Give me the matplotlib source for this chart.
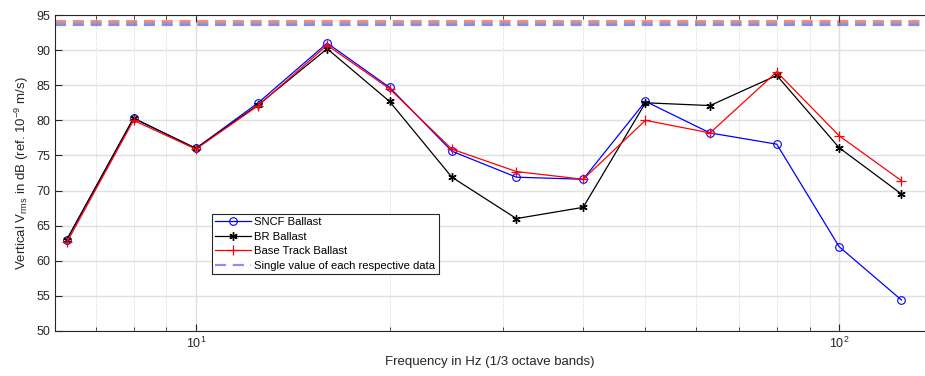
import matplotlib
matplotlib.use("Agg")
import matplotlib.pyplot as plt
import numpy as np
from matplotlib.ticker import LogLocator, NullFormatter

plt.rcParams['font.family'] = ['Liberation Sans', 'DejaVu Sans']
plt.rcParams['mathtext.fontset'] = 'custom'
plt.rcParams['mathtext.rm'] = 'Liberation Sans'
plt.rcParams['mathtext.it'] = 'Liberation Sans'

# 1/3 octave band centre frequencies
freqs = [6.3, 8, 10, 12.5, 16, 20, 25, 31.5, 40, 50, 63, 80, 100, 125]

# vertical velocity levels (dB re 1e-9 m/s)
sncf = [63.0, 80.3, 76.0, 82.5, 91.0, 84.7, 75.6, 71.9, 71.6, 82.7, 78.2, 76.6, 62.0, 54.4]
br = [63.0, 80.3, 76.0, 82.2, 90.2, 82.7, 71.9, 66.0, 67.6, 82.5, 82.1, 86.4, 76.1, 69.5]
base = [62.6, 80.0, 75.9, 82.1, 90.7, 84.5, 75.9, 72.7, 71.6, 80.0, 78.2, 86.9, 77.8, 71.4]

# single values of each data set
single_sncf = 93.6
single_br = 93.8
single_base = 94.1

fig = plt.figure(figsize=(9.25, 3.76), dpi=100)
ax = fig.add_axes([0.0595, 0.12, 0.9405, 0.84])

ax.plot(freqs, sncf, color='blue', marker='o', mfc='none', ms=5.5, mew=0.8, lw=0.9, label='SNCF Ballast')
ax.plot(freqs, br, color='black', marker=(6, 2, 0), ms=6, mew=1.0, lw=0.9, label='BR Ballast')
ax.plot(freqs, base, color='red', marker='+', ms=7, mew=0.9, lw=0.9, label='Base Track Ballast')

ax.axhline(single_base, color='red', ls='--', lw=1.6, alpha=0.45, dashes=(5, 3))
ax.axhline(single_br, color='black', ls='--', lw=1.6, alpha=0.35, dashes=(5, 3))
ax.axhline(single_sncf, color='blue', ls='--', lw=1.6, alpha=0.45, dashes=(5, 3),
           label='Single value of each respective data')

ax.set_xscale('log')
ax.set_xlim(6.04, 136)
ax.set_ylim(50, 95)
ax.set_yticks(np.arange(50, 96, 5))
ax.xaxis.set_major_locator(LogLocator(base=10, numticks=10))
ax.xaxis.set_minor_locator(LogLocator(base=10, subs=np.arange(2, 10), numticks=10))
ax.xaxis.set_minor_formatter(NullFormatter())

ax.grid(True, which='major', axis='both', color='#e0e0e0', lw=1.0, ls='-')
ax.grid(True, which='minor', axis='x', color='#c8c8c8', lw=0.6, ls=':')
ax.set_axisbelow(True)

ax.tick_params(which='both', direction='in', top=True, right=False, labelsize=9, colors='#262626')
ax.tick_params(which='major', length=5)
ax.tick_params(which='minor', length=3)
ax.spines['right'].set_visible(False)
for s in ['left', 'bottom', 'top']:
    ax.spines[s].set_color('#262626')

ax.set_xlabel('Frequency in Hz (1/3 octave bands)', fontsize=9.5, color='#262626')
ax.set_ylabel(r'Vertical V$_{\mathrm{rms}}$ in dB (ref. 10$^{-9}$ m/s)', fontsize=9.5, color='#262626')

leg = ax.legend(loc='upper left', bbox_to_anchor=(0.180, 0.370), fontsize=8.1, frameon=True,
                fancybox=False, edgecolor='#262626', framealpha=1, borderpad=0.3,
                labelspacing=0.4, handlelength=3.2, handletextpad=0.3, borderaxespad=0)
leg.get_frame().set_linewidth(0.8)

fig.savefig('out.png', dpi=100)
